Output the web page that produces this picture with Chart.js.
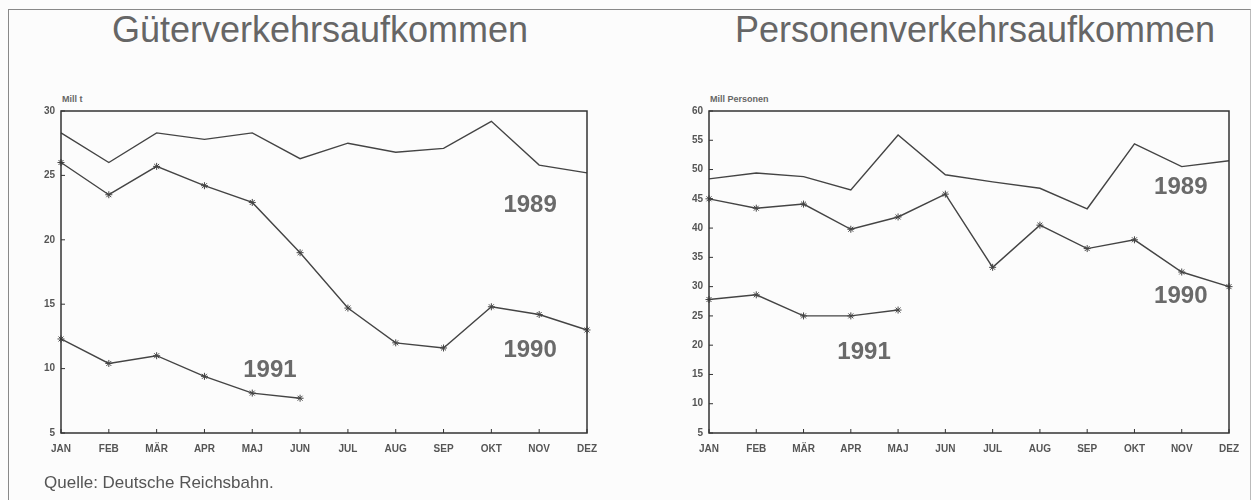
<!DOCTYPE html>
<html lang="de">
<head>
<meta charset="utf-8">
<title>Güter- und Personenverkehrsaufkommen</title>
<script src="https://cdn.jsdelivr.net/npm/chart.js@4.4.1/dist/chart.umd.min.js"></script>
<style>
  html, body { margin: 0; padding: 0; background: #fcfcfc; }
  #page { position: relative; width: 1251px; height: 500px; overflow: hidden;
          font-family: "Liberation Sans", Arial, sans-serif; }
  .frame { position: absolute; left: 8px; top: 9px; width: 1241px; height: 600px;
           border-left: 1.5px solid #888; border-top: 1.5px solid #888; border-right: 1px solid #bbb; }
  .title { position: absolute; top: 12px; font-size: 36px; line-height: 36px; color: #666;
           white-space: nowrap; transform: translateX(-50%); }
  .unit { position: absolute; top: 94px; font-size: 9px; font-weight: bold; color: #666; }
  .src { position: absolute; left: 44px; top: 473px; font-size: 17px; color: #555; }
  canvas { position: absolute; top: 0; }
</style>
</head>
<body>
<div id="page">
  <div class="frame"></div>
  <div class="title" style="left:320px">Güterverkehrsaufkommen</div>
  <div class="title" style="left:975px">Personenverkehrsaufkommen</div>
  <div class="unit" style="left:62px">Mill t</div>
  <div class="unit" style="left:710px">Mill Personen</div>
  <canvas id="gueter" width="620" height="500" style="left:0"></canvas>
  <canvas id="personen" width="631" height="500" style="left:620px"></canvas>
  <div class="src">Quelle: Deutsche Reichsbahn.</div>
</div>
<script>
// ---------- Data ----------
const months = ['JAN', 'FEB', 'MÄR', 'APR', 'MAJ', 'JUN', 'JUL', 'AUG', 'SEP', 'OKT', 'NOV', 'DEZ'];

// Güterverkehr, Mill t
const gueter1989 = [28.3, 26.0, 28.3, 27.8, 28.3, 26.3, 27.5, 26.8, 27.1, 29.2, 25.8, 25.2];
const gueter1990 = [26.0, 23.5, 25.7, 24.2, 22.9, 19.0, 14.7, 12.0, 11.6, 14.8, 14.2, 13.0];
const gueter1991 = [12.3, 10.4, 11.0, 9.4, 8.1, 7.7];
const gueterTicks = [5, 10, 15, 20, 25, 30];

// Personenverkehr, Mill Personen
const personen1989 = [48.4, 49.4, 48.8, 46.5, 55.9, 49.1, 47.9, 46.8, 43.3, 54.4, 50.5, 51.5];
const personen1990 = [45.0, 43.4, 44.1, 39.8, 41.9, 45.8, 33.3, 40.5, 36.5, 38.0, 32.5, 30.0];
const personen1991 = [27.8, 28.6, 25.0, 25.0, 26.0];
const personenTicks = [5, 10, 15, 20, 25, 30, 35, 40, 45, 50, 55, 60];

const years = ['1989', '1990', '1991'];

// ---------- Helpers ----------
const INK = '#444';
const tickFont = { family: '"Liberation Sans", Arial, sans-serif', size: 10, weight: 'bold' };

// frame round the plot, short ticks pointing inward, year labels placed in data units
const framePlugin = {
  id: 'frame',
  afterDatasetsDraw (chart, args, opts) {
    const { ctx, chartArea: a, scales: { x, y } } = chart;
    ctx.save();
    ctx.strokeStyle = '#333';
    ctx.lineWidth = 1.5;
    ctx.strokeRect(a.left, a.top, a.right - a.left, a.bottom - a.top);
    ctx.lineWidth = 1;
    ctx.beginPath();
    x.ticks.forEach((t, i) => {
      const px = x.getPixelForTick(i);
      ctx.moveTo(px, a.bottom); ctx.lineTo(px, a.bottom - 4);
    });
    y.ticks.forEach((t, i) => {
      const py = y.getPixelForTick(i);
      ctx.moveTo(a.left, py); ctx.lineTo(a.left + 4, py);
    });
    ctx.stroke();

    ctx.fillStyle = '#6a6a6a';
    ctx.font = 'bold 24px "Liberation Sans", Arial, sans-serif';
    ctx.textAlign = 'center';
    ctx.textBaseline = 'middle';
    (opts.labels || []).forEach(l => {
      ctx.fillText(l.text, x.getPixelForValue(l.at[0]), y.getPixelForValue(l.at[1]));
    });
    ctx.restore();
  }
};

function series (data, label, star) {
  return {
    label, data,
    borderColor: INK, backgroundColor: INK,
    borderWidth: 1.4, tension: 0,
    pointStyle: star ? 'star' : false,
    pointRadius: star ? 3.5 : 0,
    pointBorderColor: INK, pointBorderWidth: 1
  };
}

function makeChart (id, sets, yMin, yMax, yTicks, yWidth, padRight, labels) {
  return new Chart(document.getElementById(id), {
    type: 'line',
    data: { labels: months, datasets: sets },
    plugins: [framePlugin],
    options: {
      responsive: false, animation: false, devicePixelRatio: 1,
      layout: { padding: { left: 0, top: 111, right: padRight, bottom: 37 } },
      plugins: { legend: { display: false }, tooltip: { enabled: false }, frame: { labels } },
      scales: {
        x: {
          offset: false,
          grid: { display: false, drawTicks: false },
          border: { display: false },
          ticks: { font: tickFont, color: '#555', padding: 10, maxRotation: 0, autoSkip: false },
          afterFit: s => { s.height = 30; }
        },
        y: {
          min: yMin, max: yMax,
          afterBuildTicks: s => { s.ticks = yTicks.map(v => ({ value: v })); },
          grid: { display: false, drawTicks: false },
          border: { display: false },
          ticks: { font: tickFont, color: '#555', padding: 6 },
          afterFit: s => { s.width = yWidth; }
        }
      }
    }
  });
}

makeChart('gueter', [
  series(gueter1989, years[0], false),
  series(gueter1990, years[1], true),
  series(gueter1991, years[2], true)
], 5, 30, gueterTicks, 61, 33, [
  { text: years[0], at: [9.81, 22.7] },
  { text: years[1], at: [9.81, 11.4] },
  { text: years[2], at: [4.37, 9.9] }
]);

makeChart('personen', [
  series(personen1989, years[0], false),
  series(personen1990, years[1], true),
  series(personen1991, years[2], true)
], 5, 60, personenTicks, 89, 22, [
  { text: years[0], at: [9.98, 47.0] },
  { text: years[1], at: [9.98, 28.4] },
  { text: years[2], at: [3.28, 18.8] }
]);
</script>
</body>
</html>
